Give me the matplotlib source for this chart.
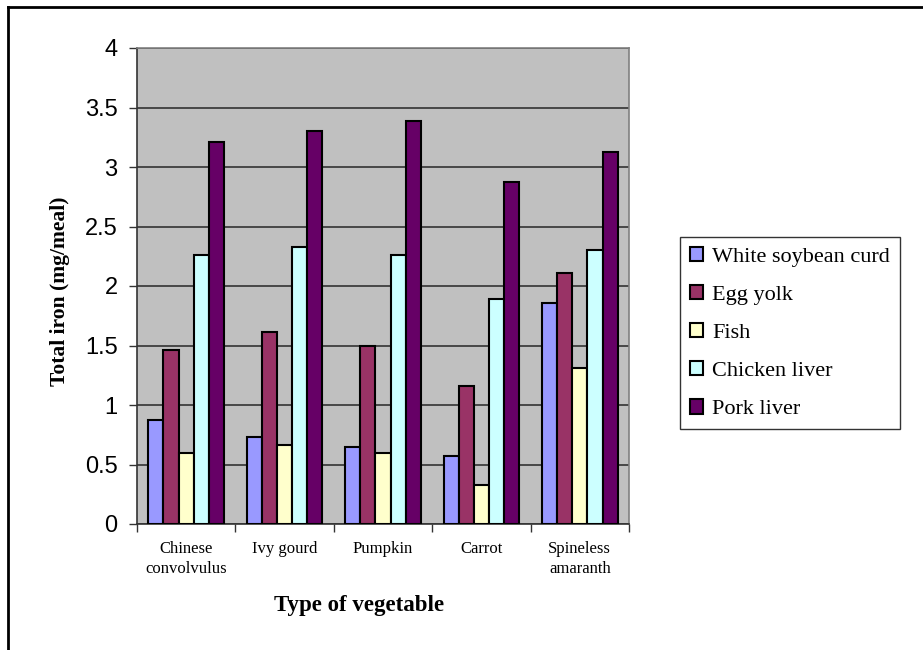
import numpy as np
import matplotlib.pyplot as plt
from matplotlib.lines import Line2D

vegetables = ["Chinese\nconvolvulus", "Ivy gourd", "Pumpkin", "Carrot", "Spineless\namaranth"]
series = ["White soybean curd", "Egg yolk", "Fish", "Chicken liver", "Pork liver"]
white_soybean_curd = [0.87, 0.73, 0.65, 0.57, 1.86]
egg_yolk = [1.46, 1.61, 1.50, 1.16, 2.11]
fish = [0.60, 0.66, 0.60, 0.33, 1.31]
chicken_liver = [2.26, 2.33, 2.26, 1.89, 2.30]
pork_liver = [3.21, 3.30, 3.39, 2.87, 3.13]
colors = ["#9999FF", "#993366", "#FFFFCC", "#CCFFFF", "#660066"]

values = [white_soybean_curd, egg_yolk, fish, chicken_liver, pork_liver]

fig = plt.figure(figsize=(9.23, 6.5), dpi=100)
ax = fig.add_axes([137 / 923, 1 - 524 / 650, 492 / 923, 476 / 650])
ax.set_facecolor("#C0C0C0")

x = np.arange(len(vegetables))
width = 1 / 6.5
for i, (name, vals) in enumerate(zip(series, values)):
    ax.bar(x - 2 * width + i * width, vals, width, color=colors[i],
           edgecolor="black", linewidth=1.5, label=name, zorder=3)

ax.set_xlim(-0.5, len(vegetables) - 0.5)
ax.set_ylim(0, 4)
ax.set_yticks(np.arange(0, 4.01, 0.5))
ax.set_yticklabels(["0", "0.5", "1", "1.5", "2", "2.5", "3", "3.5", "4"],
                   fontsize=17, family="Liberation Sans")
ax.yaxis.grid(True, color="#333333", linewidth=1.2, zorder=0)
ax.tick_params(axis="y", length=6, width=1, color="#333333", pad=8)

ax.set_xticks(x)
ax.set_xticklabels(vegetables, fontsize=12, family="Liberation Serif", linespacing=1.35)
ax.set_xticks(np.arange(-0.5, len(vegetables)), minor=True)
ax.tick_params(axis="x", which="major", length=0, pad=12)
ax.tick_params(axis="x", which="minor", length=6, width=1, color="#333333")

for side in ["left", "bottom"]:
    ax.spines[side].set_color("#333333")
    ax.spines[side].set_linewidth(1.2)
for side in ["top", "right"]:
    ax.spines[side].set_color("#808080")
    ax.spines[side].set_linewidth(1.2)

# axis titles placed in figure space
fig.text(60 / 923, 1 - 291 / 650, "Total iron (mg/meal)", rotation=90,
         fontsize=15.5, fontweight="bold", family="Liberation Serif",
         ha="center", va="center")
fig.text(359.5 / 923, 1 - 606 / 650, "Type of vegetable", fontsize=16.5,
         fontweight="bold", family="Liberation Serif", ha="center", va="center")

leg = fig.legend(loc="upper left", bbox_to_anchor=(680 / 923, 1 - 237 / 650),
                 prop={"family": "Liberation Serif", "size": 16},
                 frameon=True, fancybox=False, handlelength=0.6, handleheight=0.6,
                 handletextpad=0.4, labelspacing=0.82, borderpad=0.45,
                 borderaxespad=0)
leg.get_frame().set_edgecolor("black")
leg.get_frame().set_linewidth(1)

# frame lines around the chart area
fig.add_artist(Line2D([8 / 923, 1], [1 - 6.5 / 650, 1 - 6.5 / 650],
                      color="black", linewidth=2, transform=fig.transFigure))
fig.add_artist(Line2D([8 / 923, 8 / 923], [0, 1 - 6.5 / 650],
                      color="black", linewidth=2, transform=fig.transFigure))

fig.savefig("out.png", dpi=100)
